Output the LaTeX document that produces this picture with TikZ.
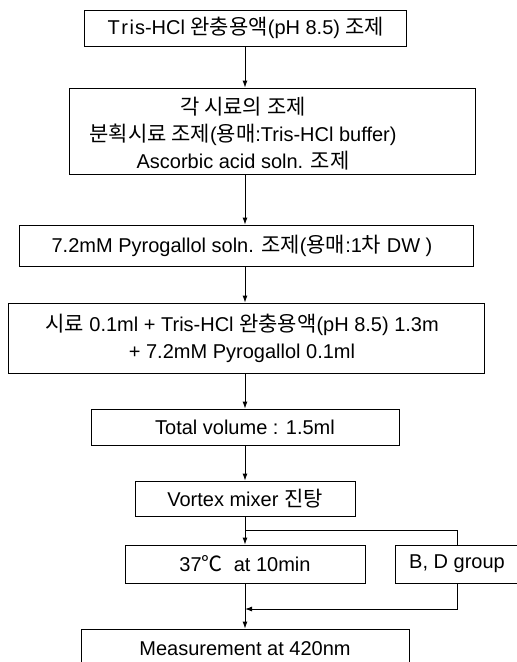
\documentclass[tikz,border=0pt]{standalone}
\usepackage{fontspec}
\setmainfont{Liberation Sans}
\newfontfamily\kr[Scale=1.05]{Noto Sans CJK KR}
\usetikzlibrary{arrows.meta}
\begin{document}
\begin{tikzpicture}[x=1pt,y=-1pt,
  box/.style={draw=black,line width=0.9pt,inner sep=0pt,align=center,font=\fontsize{20}{27}\selectfont},
  txt/.style={inner sep=0pt,align=center,font=\fontsize{20}{27}\selectfont},
  arr/.style={line width=0.9pt,-{Latex[length=7pt,width=5pt]}},
  ln/.style={line width=0.9pt}]
\useasboundingbox (0,0) rectangle (517,662);
\clip (0,0) rectangle (517,662);
\node[box,minimum width=322pt,minimum height=36pt] (b1) at (245,28) {};
\node[txt] (b1t) at (246,28) {T\kern1.5pt r\kern1.5pt i\kern1pt s-HCl\ {\kr 완충용액}(pH 8.5) {\kr 조제}};
\node[box,minimum width=406pt,minimum height=86pt] (b2) at (272,131) {};
\node[txt] (b2t) at (243,134) {{\kr 각 시료의 조제}\\{\kr 분획시료 조제}({\kr 용매}:Tris-HCl buffer)\\Ascorbic acid soln. {\kr 조제}};
\node[box,minimum width=454pt,minimum height=41pt] (b3) at (246,245.5) {};
\node[txt] (b3t) at (242,245.5) {7.2mM Pyrogallol soln. {\kr 조제}({\kr 용매}:1{\kr 차} DW )};
\node[box,minimum width=476pt,minimum height=70pt] (b4) at (246,338) {};
\node[txt] (b4t) at (242,338) {{\kr 시료} 0.1ml + Tris-HCl {\kr 완충용액}(pH 8.5) 1.3m\\+ 7.2mM Pyrogallol 0.1ml};
\node[box,minimum width=308pt,minimum height=36pt] (b5) at (245,427) {Total volume : 1.5ml};
\node[box,minimum width=220pt,minimum height=35pt] (b6) at (245,498.5) {Vortex mixer {\kr 진탕}};
\node[box,minimum width=240pt,minimum height=38pt] (b7) at (245,564) {37{\kr ℃}\ \ at 10min};
\node[box,minimum width=124pt,minimum height=38pt] (b8) at (457,564) {B, D group};
\node[box,minimum width=328pt,minimum height=40pt] (b9) at (245,649) {Measurement at 420nm};
\coordinate (j1) at (245,530);
\coordinate (j2) at (245,609);
\draw[arr] (b1.south) -- (b1.south |- b2.north);
\draw[arr] (b2.south -| b1.south) -- (b1.south |- b3.north);
\draw[arr] (b3.south -| b1.south) -- (b1.south |- b4.north);
\draw[arr] (b4.south -| b1.south) -- (b5.north);
\draw[arr] (b5.south) -- (b6.north);
\draw[arr] (b6.south) -- (b7.north);
\draw[ln] (j1) -| (b8.north);
\draw[ln] (b7.south) -- (j2);
\draw[arr] (b8.south) |- (j2);
\draw[arr] (j2) -- (b9.north);
\end{tikzpicture}
\end{document}
